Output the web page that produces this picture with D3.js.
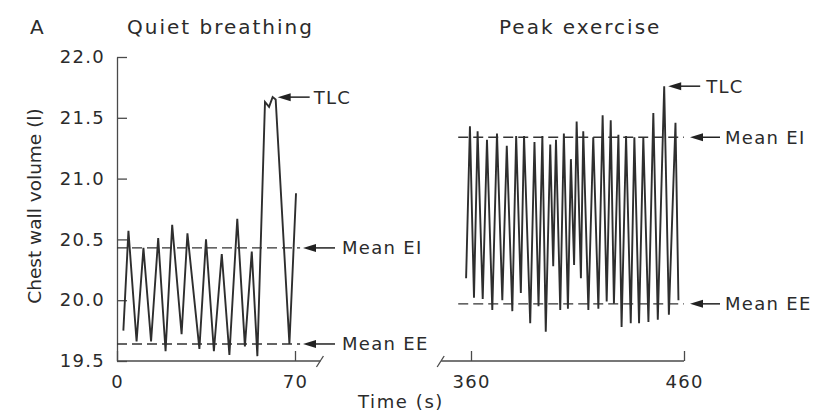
<!DOCTYPE html>
<html><head><meta charset="utf-8">
<script src="https://cdn.jsdelivr.net/npm/d3@7"></script>
<style>
html,body{margin:0;padding:0;background:#fff;}
svg text{font-family:"DejaVu Sans",sans-serif;fill:#2b2b2b;}
</style></head>
<body><svg id="c" width="819" height="414"></svg>
<script>
// ---- data ----
const quietTime = [2.5,4.5,7.7,10.4,13.4,16.2,19.1,21.7,25.4,27.7,32.4,35.0,38.1,41.2,44.2,47.3,50.3,53.0,55.2,58.2,59.8,61.2,62.4,67.8,70.4];
const quietVol  = [19.75,20.57,19.66,20.43,19.66,20.51,19.58,20.62,19.72,20.55,19.60,20.50,19.58,20.38,19.55,20.67,19.62,20.40,19.54,21.63,21.59,21.67,21.65,19.64,20.88];
const peakTime = [357.7,359.5,361.4,363.1,365.5,367.5,370.0,372.2,374.7,376.8,379.4,381.2,383.4,384.9,387.8,389.8,391.7,393.5,395.1,397.2,398.6,399.9,401.9,403.6,405.5,406.9,408.4,409.6,411.6,412.7,415.1,417.4,419.8,421.8,423.7,425.6,427.1,429.2,430.7,432.8,435.0,436.7,438.9,440.9,443.3,445.6,447.7,450.7,452.9,456.0,457.4];
const peakVol  = [20.18,21.43,20.02,21.39,20.01,21.32,19.92,21.37,20.00,21.27,19.91,21.35,20.06,21.35,19.81,21.30,19.95,21.35,19.74,21.28,20.28,21.32,19.92,21.37,19.93,21.16,20.29,21.47,20.18,21.39,19.92,21.34,19.93,21.52,19.99,21.48,19.97,21.36,19.78,21.35,19.81,21.34,19.81,21.34,19.82,21.54,19.84,21.76,19.88,21.46,20.00];
const quietMeans = {EI:20.43, EE:19.64};
const peakMeans  = {EI:21.34, EE:19.97};
const quietTLC = {t:62.4, v:21.67};
const peakTLC  = {t:450.7, v:21.76};
const yTicks = [19.5,20.0,20.5,21.0,21.5,22.0];
const quietTicks = [0,70];
const peakTicks = [360,460];
const titles = ["Quiet breathing","Peak exercise"];

// ---- layout ----
const svg = d3.select("#c");
const y = d3.scaleLinear().domain([19.5,22]).range([361,57]);
const xL = d3.scaleLinear().domain([0,70]).range([117,295]);
const xR = d3.scaleLinear().domain([360,460]).range([471,684]);
const axisCol = "#4a4a4a", traceCol = "#2e2e2e";
const lab = 18, ls = "1.3px";

// y axis
const ya = svg.append("g").attr("transform","translate(117,0)")
  .call(d3.axisLeft(y).tickValues(yTicks).tickFormat(d3.format(".1f")).tickSize(-10).tickSizeOuter(0).tickPadding(12));
ya.selectAll("path,line").attr("stroke",axisCol).attr("stroke-width",1.3);
ya.selectAll("text").attr("font-size",lab).style("letter-spacing",ls).attr("fill","#2b2b2b").attr("font-family","DejaVu Sans");

// bottom axes
function bottomAxis(x, ticks, lo, hi, slashAt){
  const g = svg.append("g").attr("transform","translate(0,361)")
    .call(d3.axisBottom(x).tickValues(ticks).tickSize(-10).tickSizeOuter(0).tickPadding(14));
  g.select(".domain").remove();
  g.selectAll("line").attr("stroke",axisCol).attr("stroke-width",1.3);
  g.selectAll("text").attr("font-size",lab).style("letter-spacing",ls).attr("fill","#2b2b2b").attr("font-family","DejaVu Sans");
  g.append("line").attr("x1",x(lo)).attr("x2",x(hi)).attr("y1",0).attr("y2",0).attr("stroke",axisCol).attr("stroke-width",1.3);
  const sx = x(slashAt);
  g.append("line").attr("x1",sx-4).attr("y1",6).attr("x2",sx+3).attr("y2",-5).attr("stroke",axisCol).attr("stroke-width",1.3);
}
bottomAxis(xL, quietTicks, 0, 80, 80);
bottomAxis(xR, peakTicks, 346, 460, 346);

// mean lines
function dash(x, t0, t1, v){
  svg.append("line").attr("x1",x(t0)).attr("x2",x(t1)).attr("y1",y(v)).attr("y2",y(v))
    .attr("stroke","#333").attr("stroke-width",1.3).attr("stroke-dasharray","10,5");
}
dash(xL, 0, 72, quietMeans.EI); dash(xL, 0, 72, quietMeans.EE);
dash(xR, 354, 460, peakMeans.EI); dash(xR, 354, 460, peakMeans.EE);

// traces
const line = x => d3.line().x(d=>x(d[0])).y(d=>y(d[1]));
svg.append("path").datum(d3.zip(quietTime,quietVol)).attr("d",line(xL))
  .attr("fill","none").attr("stroke",traceCol).attr("stroke-width",1.9).attr("stroke-linejoin","miter");
svg.append("path").datum(d3.zip(peakTime,peakVol)).attr("d",line(xR))
  .attr("fill","none").attr("stroke",traceCol).attr("stroke-width",1.9).attr("stroke-linejoin","miter");

// annotations
function arrow(tipX, yy, len, text, gap){
  svg.append("line").attr("x1",tipX+8).attr("x2",tipX+len).attr("y1",yy).attr("y2",yy).attr("stroke","#222").attr("stroke-width",1.5);
  svg.append("path").attr("d",`M${tipX},${yy} L${tipX+13},${yy-4} L${tipX+13},${yy+4} Z`).attr("fill","#222");
  svg.append("text").attr("x",tipX+len+gap).attr("y",yy).attr("dy","0.36em").attr("font-size",lab).style("letter-spacing",ls).text(text);
}
arrow(303, y(quietMeans.EI), 32, "Mean EI", 7);
arrow(303, y(quietMeans.EE), 32, "Mean EE", 7);
arrow(xL(quietTLC.t)+2, y(quietTLC.v), 32, "TLC", 4);
arrow(690, y(peakMeans.EI), 30, "Mean EI", 5);
arrow(690, y(peakMeans.EE), 30, "Mean EE", 5);
arrow(xR(peakTLC.t)+4, y(peakTLC.v), 32, "TLC", 6);

// titles
svg.append("text").attr("x",30).attr("y",34).attr("font-size",20).text("A");
svg.append("text").attr("x",127).attr("y",34).attr("font-size",20).style("letter-spacing","2px").text(titles[0]);
svg.append("text").attr("x",499).attr("y",34).attr("font-size",20).style("letter-spacing","2px").text(titles[1]);
svg.append("text").attr("transform","translate(41,206) rotate(-90)").attr("text-anchor","middle").attr("font-size",18.5).text("Chest wall volume (l)");
svg.append("text").attr("x",401).attr("y",408).attr("text-anchor","middle").attr("font-size",lab).style("letter-spacing","1.6px").text("Time (s)");
</script></body></html>
